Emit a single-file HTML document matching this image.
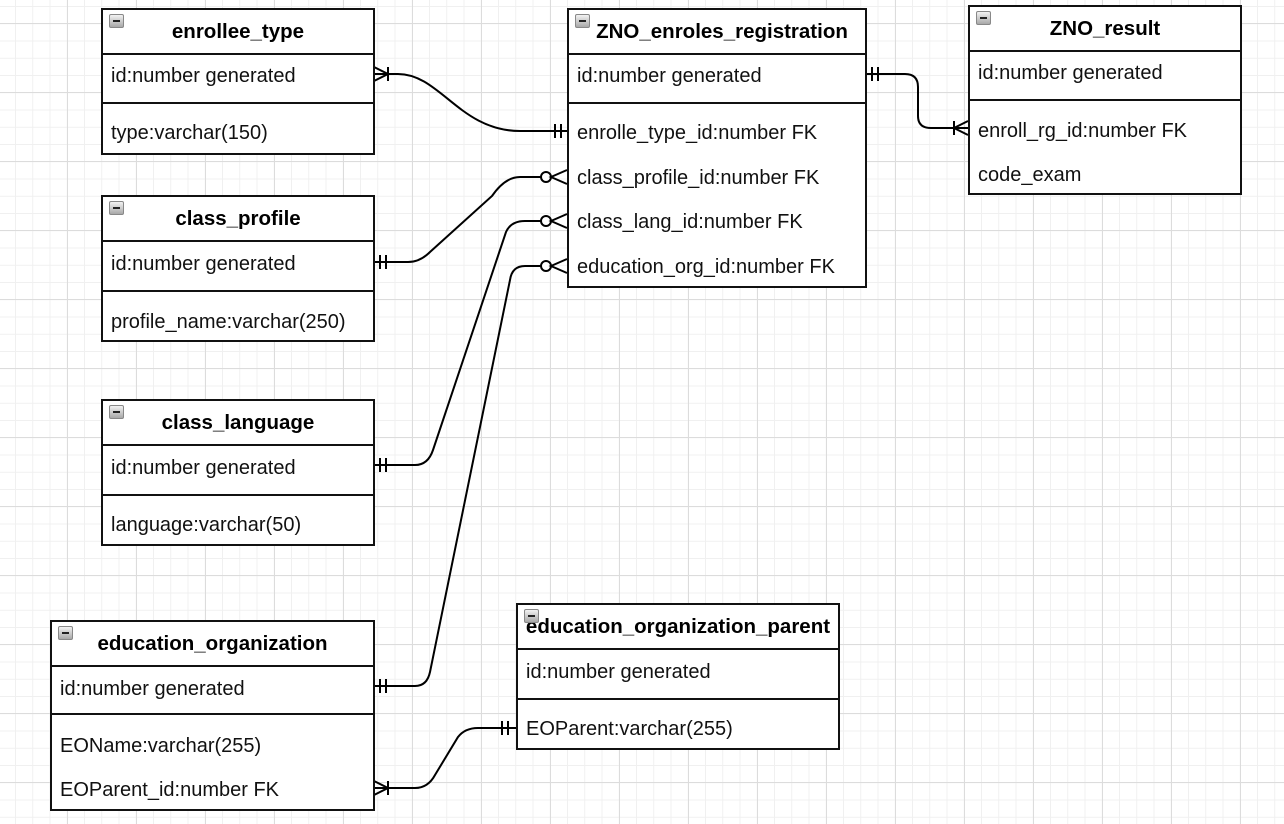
<!DOCTYPE html>
<html><head><meta charset="utf-8"><style>
body{margin:0;width:1284px;height:824px;overflow:hidden;background:#fff;
background-image:
linear-gradient(#dcdcdc 1px,transparent 1px),linear-gradient(90deg,#dcdcdc 1px,transparent 1px),
linear-gradient(#f0f0f0 1px,transparent 1px),linear-gradient(90deg,#f0f0f0 1px,transparent 1px);
background-size:69px 69px,69px 69px,17.25px 17.25px,17.25px 17.25px;
background-position:0 23px,-2px 0,0 6px,15px 0;
font-family:"Liberation Sans",Arial,sans-serif;position:relative}
.t{position:absolute;border:2px solid #111;background:#fff;box-sizing:border-box}
.h{position:absolute;left:0;right:0;top:0;border-bottom:2px solid #111;font-weight:bold;font-size:20.5px;text-align:center;box-sizing:border-box}
.s{position:absolute;left:0;right:0;border-top:2px solid #111}
.r{position:absolute;left:8px;font-size:20px;color:#111;line-height:22px}
.ic{position:absolute;left:6px;top:4px;width:15px;height:14px;background:linear-gradient(#f2f2f2,#a8a8a8);border:1px solid #888;box-sizing:border-box;border-radius:2px}
.ic:after{content:"";position:absolute;left:3px;right:3px;top:5px;height:2px;background:#222}
svg{position:absolute;left:0;top:0}
</style></head><body>
<svg width="1284" height="824" fill="none" stroke="#000" stroke-width="2">
<path d="M374 74 H398 C440 74 460 131 520 131 H567"/>
<path d="M374 67 L388 74 L374 81 M388 67 V81"/>
<path d="M561 124 V138 M555 124 V138"/>
<path d="M374 262 H408 Q420 262 430 252 L492 196 Q505 177 520 177 H541"/>
<path d="M380 255 V269 M386 255 V269"/>
<circle cx="546" cy="177" r="5" fill="#fff"/>
<path d="M567 170 L551 177 L567 184"/>
<path d="M374 465 H415 Q428 465 433 450 L506 232 Q511 221 525 221 H541"/>
<path d="M380 458 V472 M386 458 V472"/>
<circle cx="546" cy="221" r="5" fill="#fff"/>
<path d="M567 214 L551 221 L567 228"/>
<path d="M374 686 H415 Q427 686 430 672 L510 280 Q512 266 525 266 H541"/>
<path d="M380 679 V693 M386 679 V693"/>
<circle cx="546" cy="266" r="5" fill="#fff"/>
<path d="M567 259 L551 266 L567 273"/>
<path d="M374 788 H415 Q428 788 435 775 L458 737 Q465 728 478 728 H516"/>
<path d="M374 781 L388 788 L374 795 M388 781 V795"/>
<path d="M502 721 V735 M508 721 V735"/>
<path d="M866 74 H905 Q918 74 918 87 V116 Q918 128 931 128 H968"/>
<path d="M872 67 V81 M878 67 V81"/>
<path d="M968 121 L954 128 L968 135 M954 121 V135"/>
</svg>

<div class="t" style="left:101px;top:8px;width:274px;height:147px">
<div class="h" style="height:45px;line-height:44px">enrollee_type</div><div class="ic"></div>
<div class="r" style="top:55px">id:number generated</div>
<div class="s" style="top:92px"></div>
<div class="r" style="top:112px">type:varchar(150)</div></div>

<div class="t" style="left:101px;top:195px;width:274px;height:147px">
<div class="h" style="height:45px;line-height:44px">class_profile</div><div class="ic"></div>
<div class="r" style="top:56px">id:number generated</div>
<div class="s" style="top:93px"></div>
<div class="r" style="top:114px">profile_name:varchar(250)</div></div>

<div class="t" style="left:101px;top:399px;width:274px;height:147px">
<div class="h" style="height:45px;line-height:44px">class_language</div><div class="ic"></div>
<div class="r" style="top:56px">id:number generated</div>
<div class="s" style="top:93px"></div>
<div class="r" style="top:113px">language:varchar(50)</div></div>

<div class="t" style="left:50px;top:620px;width:325px;height:191px">
<div class="h" style="height:45px;line-height:44px">education_organization</div><div class="ic"></div>
<div class="r" style="top:56px">id:number generated</div>
<div class="s" style="top:91px"></div>
<div class="r" style="top:113px">EOName:varchar(255)</div>
<div class="r" style="top:157px">EOParent_id:number FK</div></div>

<div class="t" style="left:567px;top:8px;width:300px;height:280px">
<div class="h" style="height:45px;line-height:44px;padding-left:10px">ZNO_enroles_registration</div><div class="ic"></div>
<div class="r" style="top:55px">id:number generated</div>
<div class="s" style="top:92px"></div>
<div class="r" style="top:112px">enrolle_type_id:number FK</div>
<div class="r" style="top:157px">class_profile_id:number FK</div>
<div class="r" style="top:201px">class_lang_id:number FK</div>
<div class="r" style="top:246px">education_org_id:number FK</div></div>

<div class="t" style="left:968px;top:5px;width:274px;height:190px">
<div class="h" style="height:45px;line-height:44px">ZNO_result</div><div class="ic"></div>
<div class="r" style="top:55px">id:number generated</div>
<div class="s" style="top:92px"></div>
<div class="r" style="top:113px">enroll_rg_id:number FK</div>
<div class="r" style="top:157px">code_exam</div></div>

<div class="t" style="left:516px;top:603px;width:324px;height:147px">
<div class="h" style="height:45px;line-height:44px">education_organization_parent</div><div class="ic"></div>
<div class="r" style="top:56px">id:number generated</div>
<div class="s" style="top:93px"></div>
<div class="r" style="top:113px">EOParent:varchar(255)</div></div>
</body></html>
